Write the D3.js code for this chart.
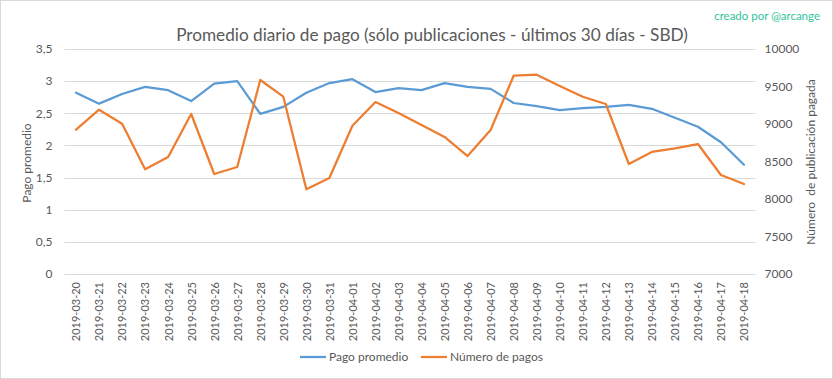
<!DOCTYPE html>
<html><head><meta charset="utf-8">
<script src="https://cdn.jsdelivr.net/npm/d3@7"></script>
<style>body{margin:0;background:#fff}svg{display:block}text{font-family:Lato,"Open Sans",sans-serif}</style>
</head><body><svg id="c" width="833" height="379"></svg>
<script>
const dates = ["2019-03-20","2019-03-21","2019-03-22","2019-03-23","2019-03-24","2019-03-25","2019-03-26","2019-03-27","2019-03-28","2019-03-29","2019-03-30","2019-03-31","2019-04-01","2019-04-02","2019-04-03","2019-04-04","2019-04-05","2019-04-06","2019-04-07","2019-04-08","2019-04-09","2019-04-10","2019-04-11","2019-04-12","2019-04-13","2019-04-14","2019-04-15","2019-04-16","2019-04-17","2019-04-18"];
const pagoPromedio = [2.82,2.65,2.80,2.91,2.86,2.69,2.96,3.00,2.49,2.60,2.82,2.97,3.03,2.83,2.89,2.86,2.97,2.91,2.88,2.66,2.61,2.55,2.58,2.60,2.63,2.57,2.43,2.29,2.05,1.70];
const numeroPagos = [8924,9191,9004,8396,8560,9133,8333,8427,9587,9364,8129,8280,8977,9293,9147,8987,8827,8573,8920,9644,9657,9507,9364,9267,8467,8627,8676,8733,8320,8200];
const leftTicks = [0,0.5,1,1.5,2,2.5,3,3.5];
const rightTicks = [7000,7500,8000,8500,9000,9500,10000];
const title = "Promedio diario de pago (sólo publicaciones - últimos 30 días - SBD)";
const credit = "creado por @arcange";
const seriesNames = ["Pago promedio","Número de pagos"];
const leftTitle = "Pago promedio";
const rightTitle = "Número  de publicación pagada";

const svg = d3.select("#c");
const W=833,H=379;
const m={l:64.5,r:77.5,t:49,b:105};
const x = d3.scalePoint().domain(dates).range([m.l, W-m.r]).padding(0.5);
const yL = d3.scaleLinear().domain([0,3.5]).range([H-m.b, m.t]);
const yR = d3.scaleLinear().domain([7000,10000]).range([H-m.b, m.t]);
const txt="#595959", grid="#d9d9d9";

svg.append("rect").attr("x",0.5).attr("y",0.5).attr("width",W-1).attr("height",H-1).attr("fill","#fff").attr("stroke",grid);

// gridlines
svg.append("g").selectAll("line").data(leftTicks).join("line")
 .attr("x1",m.l).attr("x2",W-m.r).attr("y1",d=>Math.round(yL(d))+0.5).attr("y2",d=>Math.round(yL(d))+0.5)
 .attr("stroke",grid).attr("stroke-width",1);

// left axis
const gl = svg.append("g").attr("transform",`translate(${m.l-12},0)`)
 .call(d3.axisLeft(yL).tickValues(leftTicks).tickSize(0).tickFormat(d=>String(d).replace(".",",")));
gl.select(".domain").remove();
gl.selectAll("text").attr("fill",txt).style("font-size","12px").attr("x",0);

// right axis
const gr = svg.append("g").attr("transform",`translate(${W-m.r+9},0)`)
 .call(d3.axisRight(yR).tickValues(rightTicks).tickSize(0).tickFormat(d3.format("d")));
gr.select(".domain").remove();
gr.selectAll("text").attr("fill",txt).style("font-size","12px").attr("x",0);

// x axis
const gx = svg.append("g").attr("transform",`translate(0,${H-m.b})`)
 .call(d3.axisBottom(x).tickSize(0));
gx.select(".domain").remove();
gx.selectAll("text").attr("fill",txt).style("font-size","11px")
 .attr("transform","rotate(-90)").attr("text-anchor","end").attr("x",-8).attr("y",0).attr("dy","0.35em");

// lines
const lineL = d3.line().x((d,i)=>x(dates[i])).y(d=>yL(d));
const lineR = d3.line().x((d,i)=>x(dates[i])).y(d=>yR(d));
svg.append("path").attr("d",lineL(pagoPromedio)).attr("fill","none").attr("stroke","#5b9bd5").attr("stroke-width",2.25).attr("stroke-linejoin","round").attr("stroke-linecap","round");
svg.append("path").attr("d",lineR(numeroPagos)).attr("fill","none").attr("stroke","#ed7d31").attr("stroke-width",2.25).attr("stroke-linejoin","round").attr("stroke-linecap","round");

// title
const t = svg.append("text").attr("x",432).attr("y",41).attr("text-anchor","middle").attr("fill",txt).style("font-size","18px").text(title);
const tw = t.node().getComputedTextLength(); if(tw>0) t.style("font-size",(18*512/tw).toFixed(2)+"px");

// credit
svg.append("text").attr("x",820).attr("y",20).attr("text-anchor","end").attr("fill","#2ec49c").style("font-size","11.5px").text(credit);

// axis titles
svg.append("text").attr("transform",`translate(31,163) rotate(-90)`).attr("text-anchor","middle").attr("fill",txt).style("font-size","12px").text(leftTitle);
svg.append("text").attr("transform",`translate(815,162) rotate(-90)`).attr("text-anchor","middle").attr("fill",txt).style("font-size","12px").style("white-space","pre").text(rightTitle);

// legend
const lg = svg.append("g");
const items=[{n:seriesNames[0],c:"#5b9bd5",x:300},{n:seriesNames[1],c:"#ed7d31",x:421}];
items.forEach(it=>{
  lg.append("line").attr("x1",it.x).attr("x2",it.x+26).attr("y1",357).attr("y2",357).attr("stroke",it.c).attr("stroke-width",2.25);
  lg.append("text").attr("x",it.x+29).attr("y",361).attr("fill",txt).style("font-size","12px").text(it.n);
});
</script></body></html>
